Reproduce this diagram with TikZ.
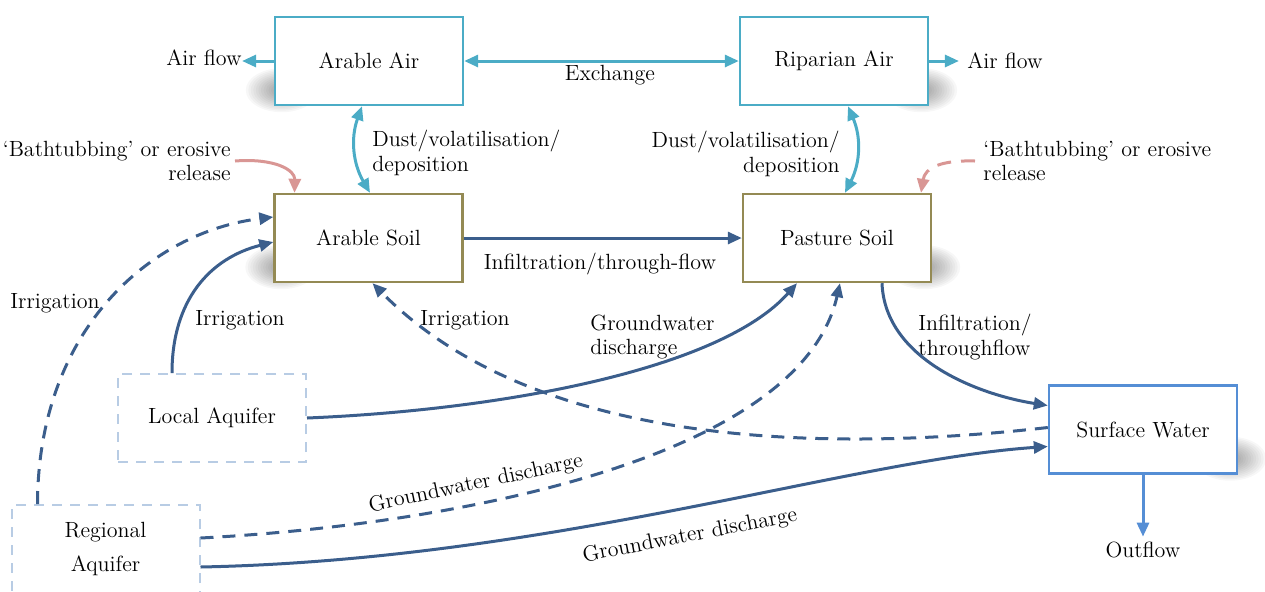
\documentclass[tikz,border=0pt]{standalone}
\usetikzlibrary{arrows.meta,calc,backgrounds}
\definecolor{teal1}{RGB}{75,172,198}
\definecolor{olive1}{RGB}{148,138,84}
\definecolor{dblue}{RGB}{59,94,140}
\definecolor{lblue}{RGB}{184,204,228}
\definecolor{swblue}{RGB}{85,142,213}
\definecolor{pink1}{RGB}{217,150,148}
\newcommand\myshadowL[1]{%
  \foreach \k in {1,...,12}
    \fill[black, opacity=0.03] ($(#1.south west)+(8,-16)$) ellipse [x radius={36*(1.07-0.07*\k)}, y radius={22*(1.07-0.07*\k)}];}
\newcommand\myshadowR[1]{%
  \foreach \k in {1,...,12}
    \fill[black, opacity=0.03] ($(#1.south east)+(-8,-16)$) ellipse [x radius={36*(1.07-0.07*\k)}, y radius={22*(1.07-0.07*\k)}];}
\begin{document}
\begin{tikzpicture}[x=0.5pt,y=-0.5pt, font=\fontsize{11}{12.3}\selectfont,
 box/.style={draw, line width=1.2pt, fill=white, minimum width=94pt, minimum height=44pt, inner sep=0pt},
 air/.style={box, draw=teal1},
 soil/.style={box, draw=olive1},
 aq/.style={box, draw=lblue, line width=1pt, dash pattern=on 5pt off 4pt},
 sw/.style={box, draw=swblue},
 tip/.style={-{Triangle[length=7pt,width=6pt]}},
 flow/.style={draw=dblue, line width=1.5pt, tip},
 dflow/.style={flow, dash pattern=on 6.5pt off 4.5pt},
 tflow/.style={draw=teal1, line width=1.5pt, tip},
 ttflow/.style={draw=teal1, line width=1.5pt, {Triangle[length=7pt,width=6pt]}-{Triangle[length=7pt,width=6pt]}},
 pflow/.style={draw=pink1, line width=1.5pt, tip},
 lbl/.style={inner sep=0pt},
]
\useasboundingbox (0,0) rectangle (1265,591);
\clip (0,0) rectangle (1265,591);

% boxes
\node[air] (aair) at (369,61) {Arable Air};
\node[air] (rair) at (834,61) {Riparian Air};
\node[soil] (asoil) at (368.5,238) {Arable Soil};
\node[soil] (psoil) at (837,238) {Pasture Soil};
\node[aq] (laq) at (212,418) {Local Aquifer};
\node[aq, align=center] (raq) at (105.5,549) {Regional\\[4.5pt]Aquifer};
\node[sw] (sw) at (1143,429.5) {Surface Water};

% shadows
\begin{scope}[on background layer]
\myshadowL{aair}
\myshadowL{asoil}
\myshadowR{rair}
\myshadowR{psoil}
\myshadowR{sw}
\end{scope}

% labels
\node[lbl] (afl) at (204,58) {Air flow};
\node[lbl] (afr) at (1005,61) {Air flow};
\node[lbl] (exch) at (610,75) {Exchange};
\node[lbl, anchor=west, align=left] (dustl) at (372,153) {Dust/volatilisation/\\deposition};
\node[lbl, anchor=east, align=right] (dustr) at (840,154) {Dust/volatilisation/\\deposition};
\node[lbl, anchor=east, align=right] (btl) at (231,161) {`Bathtubbing' or erosive\\release};
\node[lbl, anchor=west, align=left] (btr) at (983,161) {`Bathtubbing' or erosive\\release};
\node[lbl] (infl) at (600,264) {Infiltration/through-flow};
\node[lbl] (irr1) at (55,303) {Irrigation};
\node[lbl] (irr2) at (240,320) {Irrigation};
\node[lbl] (irr3) at (465,320) {Irrigation};
\node[lbl, anchor=west, align=left] (gwd1) at (590,337) {Groundwater\\discharge};
\node[lbl, anchor=west, align=left] (infl2) at (918,337) {Infiltration/\\throughflow};
\node[lbl, rotate=12] (gwd2) at (476,484) {Groundwater discharge};
\node[lbl, rotate=11] (gwd3) at (690,536) {Groundwater discharge};
\node[lbl, inner sep=2.5pt] (outf) at (1143,550) {Outflow};

% air connectors
\draw[tflow] (aair.west) -- (aair.west -| afl.east);
\draw[tflow] (rair.east) -- ([xshift=-4pt]rair.east -| afr.west);
\draw[ttflow] (aair.east) -- (rair.west);
\draw[ttflow] ([xshift=-3.5pt]aair.south) to[bend right=25] ([xshift=0.75pt]asoil.north);
\draw[ttflow] ([xshift=7pt]rair.south) to[bend left=25] ([xshift=4pt]psoil.north);

% bathtubbing
\draw[pflow] ([xshift=2pt]btl.east) .. controls (275,158) and (295,170) .. ([xshift=-37pt]asoil.north);
\draw[pflow, dash pattern=on 7pt off 5pt] ([xshift=-4pt]btr.west) .. controls (940,160) and (925,168) .. ([xshift=42pt]psoil.north);

% water connectors
\draw[flow] (asoil.east) -- (psoil.west);
\draw[dflow] ([xshift=-34pt]raq.north) .. controls (38,330) and (150,232) .. ([yshift=10.5pt]asoil.west);
\draw[flow] ([xshift=-20pt]laq.north) .. controls (172,300) and (210,258) .. ([yshift=-2pt]asoil.west);
\draw[dflow] ([yshift=1pt]sw.west) .. controls (850,450) and (542,455) .. ([xshift=2pt]asoil.south);
\draw[flow] (laq.east) .. controls (500,410) and (720,370) .. ([xshift=-20pt]psoil.south);
\draw[dflow] ([yshift=5.5pt]raq.east) .. controls (450,525) and (800,460) .. ([xshift=1.5pt]psoil.south);
\draw[flow] ([yshift=-9pt]raq.east) .. controls (550,560) and (850,460) .. ([yshift=-8.5pt]sw.west);
\draw[flow] ([xshift=22.5pt]psoil.south) .. controls (885,360) and (980,395) .. ([yshift=12pt]sw.west);
\draw[draw=swblue, line width=1.5pt, tip] (sw.south) -- (sw.south |- outf.north);
\end{tikzpicture}
\end{document}
